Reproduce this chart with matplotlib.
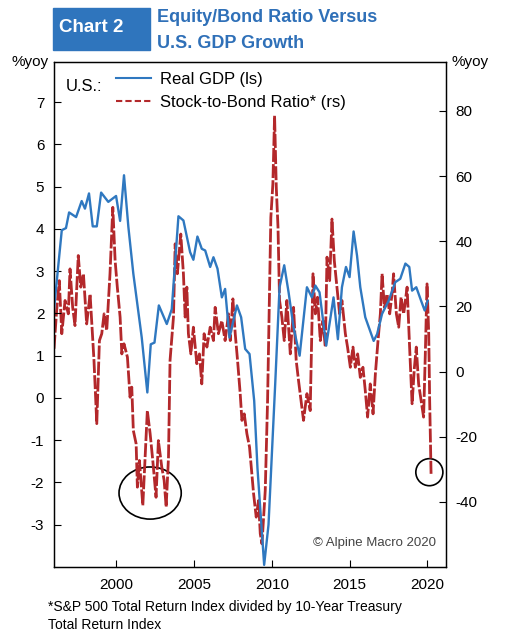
import matplotlib
matplotlib.use("Agg")
import matplotlib.pyplot as plt
from matplotlib.patches import Ellipse, Rectangle
from matplotlib.lines import Line2D

plt.rcParams['font.family'] = ['Liberation Sans', 'DejaVu Sans']
plt.rcParams['axes.unicode_minus'] = False

# Real GDP, %yoy (left scale)
gdp_year = [1996.00, 1996.50, 1996.77, 1996.97, 1997.42, 1997.78, 1997.99, 1998.25, 1998.49,
            1998.75, 1999.03, 1999.49, 1999.99, 2000.25, 2000.50, 2000.78, 2001.10, 2001.64,
            2002.00, 2002.22, 2002.46, 2002.74, 2003.25, 2003.57, 2004.00, 2004.32, 2004.75,
            2004.96, 2005.22, 2005.50, 2005.72, 2006.04, 2006.25, 2006.51, 2006.79, 2007.00,
            2007.28, 2007.76, 2008.03, 2008.29, 2008.57, 2008.87, 2009.08, 2009.51, 2009.79,
            2010.22, 2010.50, 2010.80, 2011.08, 2011.40, 2011.79, 2012.26, 2012.58, 2012.80,
            2013.07, 2013.50, 2013.97, 2014.25, 2014.51, 2014.77, 2015.00, 2015.26, 2015.48,
            2015.69, 2016.01, 2016.55, 2016.77, 2017.09, 2017.51, 2017.94, 2018.26, 2018.59,
            2018.84, 2019.02, 2019.29, 2019.60, 2019.83, 2020.02]
gdp_val = [2.1, 3.97, 4.02, 4.39, 4.28, 4.66, 4.48, 4.84, 4.06,
           4.06, 4.86, 4.64, 4.78, 4.19, 5.27, 4.05, 2.94, 1.43,
           0.13, 1.27, 1.31, 2.19, 1.75, 2.1, 4.3, 4.2, 3.45,
           3.27, 3.82, 3.53, 3.49, 3.1, 3.33, 3.06, 2.38, 2.58,
           1.43, 2.19, 1.91, 1.16, 1.04, -0.07, -1.66, -3.95, -3.0,
           0.33, 2.62, 3.14, 2.5, 1.67, 1.0, 2.62, 2.38, 2.66,
           2.5, 1.24, 2.38, 1.39, 2.62, 3.1, 2.86, 3.94, 3.37,
           2.62, 1.91, 1.35, 1.51, 1.99, 2.3, 2.74, 2.82, 3.18,
           3.1, 2.54, 2.62, 2.3, 2.07, 2.3]

# Stock-to-bond ratio, %yoy (right scale)
sb_year = [1996.00, 1996.17, 1996.34, 1996.50, 1996.71, 1996.92, 1997.03, 1997.20, 1997.35,
           1997.56, 1997.72, 1997.89, 1998.10, 1998.32, 1998.57, 1998.75, 1998.92, 1999.07,
           1999.22, 1999.39, 1999.60, 1999.78, 1999.93, 2000.07, 2000.25, 2000.36, 2000.50,
           2000.72, 2000.89, 2001.00, 2001.10, 2001.28, 2001.36, 2001.49, 2001.71, 2001.86,
           2002.00, 2002.18, 2002.35, 2002.56, 2002.71, 2002.93, 2003.08, 2003.21, 2003.36,
           2003.46, 2003.68, 2003.79, 2003.93, 2004.15, 2004.32, 2004.43, 2004.54, 2004.64,
           2004.80, 2004.96, 2005.18, 2005.35, 2005.50, 2005.65, 2005.83, 2006.04, 2006.25,
           2006.36, 2006.57, 2006.79, 2007.00, 2007.22, 2007.33, 2007.50, 2007.65, 2007.80,
           2007.97, 2008.08, 2008.23, 2008.40, 2008.57, 2008.72, 2008.83, 2009.00, 2009.15,
           2009.26, 2009.37, 2009.58, 2009.73, 2009.85, 2009.94, 2010.07, 2010.18, 2010.29,
           2010.40, 2010.50, 2010.65, 2010.80, 2010.97, 2011.19, 2011.40, 2011.57, 2011.72,
           2011.88, 2012.04, 2012.26, 2012.47, 2012.65, 2012.80, 2012.94, 2013.12, 2013.29,
           2013.44, 2013.55, 2013.72, 2013.87, 2014.02, 2014.19, 2014.36, 2014.51, 2014.73,
           2014.87, 2015.05, 2015.22, 2015.37, 2015.52, 2015.69, 2015.86, 2016.01, 2016.16,
           2016.33, 2016.51, 2016.66, 2016.83, 2016.98, 2017.09, 2017.24, 2017.41, 2017.58,
           2017.73, 2017.83, 2018.01, 2018.16, 2018.31, 2018.48, 2018.70, 2018.86, 2019.02,
           2019.17, 2019.29, 2019.44, 2019.60, 2019.76, 2019.87, 2019.98, 2020.09, 2020.15,
           2020.24]
sb_val = [7.0, 18.7, 27.9, 11.6, 21.8, 17.7, 31.5, 19.7, 14.1,
          35.6, 25.9, 30.0, 14.6, 23.8, 3.4, -16.0, 9.5, 11.6,
          17.7, 12.6, 30.0, 50.4, 34.0, 25.9, 16.7, 5.4, 8.5,
          4.4, -7.9, -4.8, -18.1, -22.2, -35.5, -27.3, -41.1, -26.3,
          -12.0, -19.1, -27.3, -38.6, -21.2, -29.4, -33.4, -41.6, -26.3,
          3.4, 16.7, 39.2, 30.0, 42.2, 30.0, 16.7, 25.9, 11.6,
          5.4, 13.6, 2.4, 5.4, -3.8, 11.6, 7.5, 13.6, 9.5,
          19.7, 11.6, 15.6, 9.5, 17.7, 9.5, 22.3, 11.6, 3.4,
          -6.8, -15.0, -13.0, -19.1, -23.2, -31.4, -37.5, -44.7, -39.6,
          -49.8, -52.9, -36.5, -8.9, 23.8, 47.3, 57.6, 78.5, 56.5,
          44.3, 21.8, 16.7, 9.5, 21.8, 5.4, 19.7, 3.4, -2.8,
          -8.9, -15.0, -6.8, -12.0, 30.0, 17.7, 22.8, 9.5, 15.6,
          7.5, 35.1, 27.9, 46.8, 34.0, 25.9, 17.7, 21.8, 11.6,
          7.5, 1.3, 7.5, 1.3, 5.4, -1.8, 1.3, -5.8, -14.0,
          -3.8, -13.0, -0.7, 9.5, 17.7, 30.0, 19.7, 23.8, 17.7,
          23.8, 30.0, 17.7, 13.6, 22.8, 17.7, 25.9, 7.5, -9.9,
          1.3, 7.5, -3.8, -8.9, -14.0, 5.4, 26.9, 11.6, -8.9,
          -31.4]

left_ticks = [-3, -2, -1, 0, 1, 2, 3, 4, 5, 6, 7]
right_ticks = [-40, -20, 0, 20, 40, 60, 80]
year_ticks = [2000, 2005, 2010, 2015, 2020]

blue = '#2f78c0'
red = '#b3282b'
title_blue = '#2f70b8'

fig = plt.figure(figsize=(5.13, 6.4), dpi=100)
ax = fig.add_axes([54 / 513, 1 - 567 / 640, 392 / 513, 505 / 640])
ax2 = ax.twinx()

ax2.plot(sb_year, sb_val, color=red, lw=2.0, linestyle=(0, (5, 0.8)))
ax.plot(gdp_year, gdp_val, color=blue, lw=1.7)
ax.set_zorder(ax2.get_zorder() + 1)
ax.patch.set_visible(False)

ax.set_xlim(1996.0, 2021.2)
ax.set_ylim(-4.0, 7.95)
ax2.set_ylim(-60, 95)
ax.set_xticks(year_ticks)
ax.set_yticks(left_ticks)
ax2.set_yticks(right_ticks)

for a in (ax, ax2):
    a.tick_params(direction='in', length=5, width=0.8, labelsize=11, pad=7)
    for s in a.spines.values():
        s.set_linewidth(0.9)
ax.tick_params(axis='x', pad=8)

# highlight circles
ax2.add_patch(Ellipse((2002.18, -37.3), 4.0, 16, fill=False, ec='black', lw=1.2))
ax2.add_patch(Ellipse((2020.13, -30.9), 1.74, 8.3, fill=False, ec='black', lw=1.2))

# legend
ax.text(0.03, 0.952, 'U.S.:', transform=ax.transAxes, fontsize=12, va='center', ha='left')
handles = [Line2D([], [], color=blue, lw=1.5),
           Line2D([], [], color=red, lw=1.5, linestyle=(0, (3, 1.5)))]
fig.legend(handles, ['Real GDP (ls)', 'Stock-to-Bond Ratio* (rs)'],
           loc='upper left', bbox_to_anchor=(116 / 513, 1 - 72 / 640), frameon=False,
           fontsize=12, handlelength=2.1, handletextpad=0.55, labelspacing=0.45,
           borderpad=0, borderaxespad=0)

ax.text(0.975, 0.035, '\u00a9 Alpine Macro 2020', transform=ax.transAxes, fontsize=9.5,
        color='#444444', ha='right', va='bottom')

# axis unit labels
fig.text(30 / 513, 1 - 62 / 640, '%yoy', fontsize=11, ha='center', va='center')
fig.text(470 / 513, 1 - 62 / 640, '%yoy', fontsize=11, ha='center', va='center')

# header
fig.patches.append(Rectangle((53 / 513, 1 - 50 / 640), 97 / 513, 42 / 640,
                             transform=fig.transFigure, color='#2f75bd', zorder=0))
fig.text(59 / 513, 1 - 27 / 640, 'Chart 2', color='white', fontsize=13.5, fontweight='bold',
         ha='left', va='center')
fig.text(157 / 513, 1 - 18 / 640, 'Equity/Bond Ratio Versus', color=title_blue, fontsize=13,
         fontweight='bold', ha='left', va='center')
fig.text(157 / 513, 1 - 43 / 640, 'U.S. GDP Growth', color=title_blue, fontsize=13,
         fontweight='bold', ha='left', va='center')

# footnote
fig.text(48 / 513, 1 - 607 / 640, '*S&P 500 Total Return Index divided by 10-Year Treasury',
         fontsize=10, ha='left', va='center')
fig.text(48 / 513, 1 - 625 / 640, 'Total Return Index', fontsize=10, ha='left', va='center')

fig.savefig('out.png', dpi=100)
